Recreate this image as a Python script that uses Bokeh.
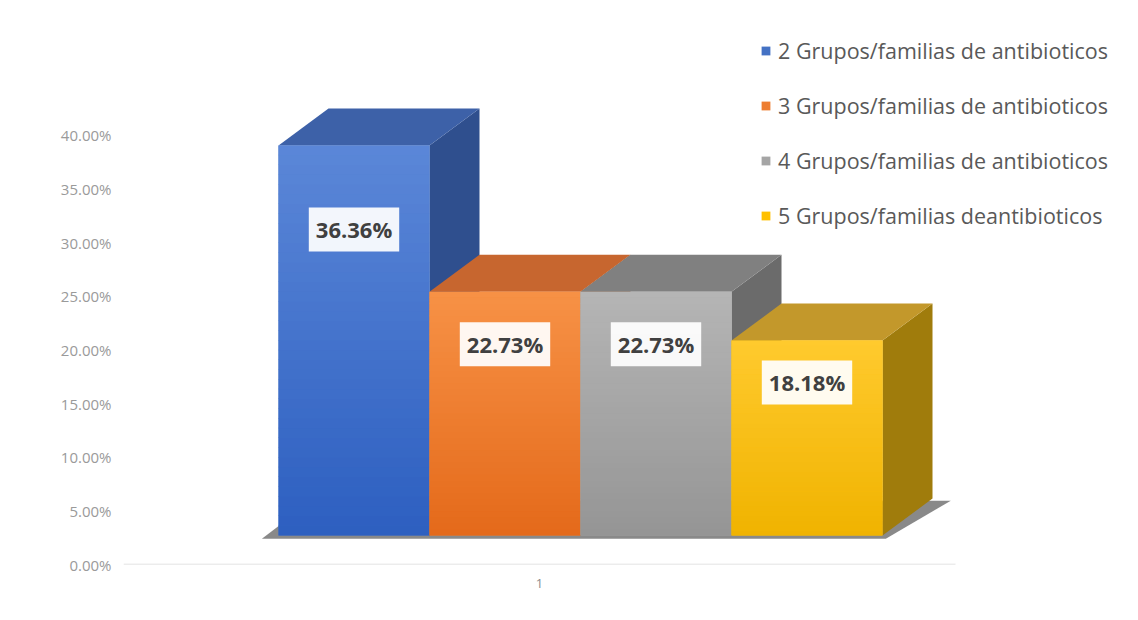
from bokeh.plotting import figure
from bokeh.models import Range1d, FixedTicker, NumeralTickFormatter, Legend, LegendItem
from bokeh.core.properties import value
from bokeh.embed import file_html
from bokeh.resources import INLINE

# ---- data ----
categories = ["1"]
series = [
    "2 Grupos/familias de antibioticos",
    "3 Grupos/familias de antibioticos",
    "4 Grupos/familias de antibioticos",
    "5 Grupos/familias deantibioticos",
]
values = [0.3636, 0.2273, 0.2273, 0.1818]
y_ticks = [0.0, 0.05, 0.10, 0.15, 0.20, 0.25, 0.30, 0.35, 0.40]

# ---- styles ----
legend_colors = ["#4472c4", "#ed7d31", "#a5a5a5", "#ffc000"]
front_top = ["#5b87d8", "#f79246", "#b5b5b5", "#ffca2e"]
front_bot = ["#2d5fc0", "#e4691a", "#959595", "#f0b300"]
top_cols = ["#3d61a8", "#c7662f", "#808080", "#c3982b"]
side_cols = ["#2f4f8e", "#a9541f", "#6b6b6b", "#a07c0c"]

W, H = 1122, 604
LEFT = 123
PX = 832.0           # pixels per x data unit (category band)
FRAME_W = W - LEFT
p = figure(width=W, height=H, output_backend="svg", toolbar_location=None,
           x_range=Range1d(0.5, 0.5 + FRAME_W / PX), y_range=Range1d(0, 0.5072),
           min_border_left=LEFT, min_border_right=0,
           min_border_top=20, min_border_bottom=40)
p.outline_line_color = None
p.xgrid.visible = False
p.ygrid.visible = False
p.background_fill_color = "white"
p.border_fill_color = "white"

# axes
p.yaxis.ticker = FixedTicker(ticks=y_ticks)
p.yaxis.formatter = NumeralTickFormatter(format="0.00%")
p.yaxis.axis_line_color = None
p.yaxis.major_tick_line_color = None
p.yaxis.minor_tick_line_color = None
p.yaxis.major_tick_out = 0
p.yaxis.major_tick_in = 0
p.yaxis.major_label_standoff = 12
p.yaxis.major_label_text_font = "Open Sans"
p.yaxis.major_label_text_font_size = "15px"
p.yaxis.major_label_text_color = "#9a9a9a"

p.xaxis.ticker = FixedTicker(ticks=[1])
p.xaxis.major_label_overrides = {1: categories[0]}
p.xaxis.axis_line_color = None
p.xaxis.major_tick_line_color = None
p.xaxis.minor_tick_line_color = None
p.xaxis.major_tick_out = 0
p.xaxis.major_tick_in = 0
p.xaxis.major_label_standoff = 14
p.xaxis.major_label_text_font = "Open Sans"
p.xaxis.major_label_text_font_size = "13px"
p.xaxis.major_label_text_color = "#8c8c8c"

# category axis line (spans the single category band)
p.segment(x0=[0.5], x1=[1.5], y0=[0], y1=[0], line_color="#d9d9d9", line_width=1.5)

# 3D geometry (style constants)
bar_w = 151 / PX
dx = 50 / PX
dy = 0.0345
base = 0.027
x0 = 0.6863
n = len(values)
x_end = x0 + n * bar_w

# floor shadow
p.patch([x0 - 0.020, x_end + 0.004, x_end + dx + 0.022, x0 - 0.020 + dx],
        [base - 0.003, base - 0.003, base + dy - 0.002, base + dy - 0.002],
        fill_color="#3a3a3a", fill_alpha=0.6, line_color=None)


def hex2rgb(h):
    h = h.lstrip("#")
    return tuple(int(h[k:k + 2], 16) for k in (0, 2, 4))


def mix(c1, c2, t):
    a, b = hex2rgb(c1), hex2rgb(c2)
    return "#%02x%02x%02x" % tuple(int(round(a[k] + (b[k] - a[k]) * t)) for k in range(3))


NS = 40
legend_items = []
for i, (name, v) in enumerate(zip(series, values)):
    xl = x0 + i * bar_w
    xr = xl + bar_w
    b = base
    t = base + v
    # side face
    p.patch([xr, xr + dx, xr + dx, xr], [b, b + dy, t + dy, t],
            fill_color=side_cols[i], line_color=None)
    # top face
    p.patch([xl, xl + dx, xr + dx, xr], [t, t + dy, t + dy, t],
            fill_color=top_cols[i], line_color=None)
    # front face (solid, legend reference)
    r = p.quad(left=[xl], right=[xr], bottom=[b], top=[t],
               fill_color=legend_colors[i], line_color=None)
    legend_items.append(LegendItem(label=name, renderers=[r]))
    # vertical gradient overlay
    bots = [b + v * k / NS for k in range(NS)]
    tops = [min(b + v * (k + 1) / NS + 0.0005, t) for k in range(NS)]
    cols = [mix(front_bot[i], front_top[i], (k + 0.5) / NS) for k in range(NS)]
    p.quad(left=[xl] * NS, right=[xr] * NS, bottom=bots, top=tops,
           fill_color=cols, line_color=None)

# data labels
lx = [x0 + (i + 0.5) * bar_w for i in range(n)]
ly = [base + 0.785 * v for v in values]
lt = ["%.2f%%" % (v * 100) for v in values]
p.text(x=lx, y=ly, text=lt, text_align="center", text_baseline="middle",
       text_font=value("Open Sans"), text_font_style="bold", text_font_size="22px",
       text_color="#404040", background_fill_color="white", background_fill_alpha=0.93,
       padding=7)

legend = Legend(items=legend_items, location=(637, 334), padding=0, margin=0,
                border_line_color=None, background_fill_alpha=0,
                glyph_width=11, glyph_height=11, label_standoff=7,
                label_height=26, spacing=26,
                label_text_font="Open Sans", label_text_font_size="21.5px",
                label_text_color="#595959")
p.add_layout(legend, "center")

open("out.html", "w").write(file_html(p, INLINE))
